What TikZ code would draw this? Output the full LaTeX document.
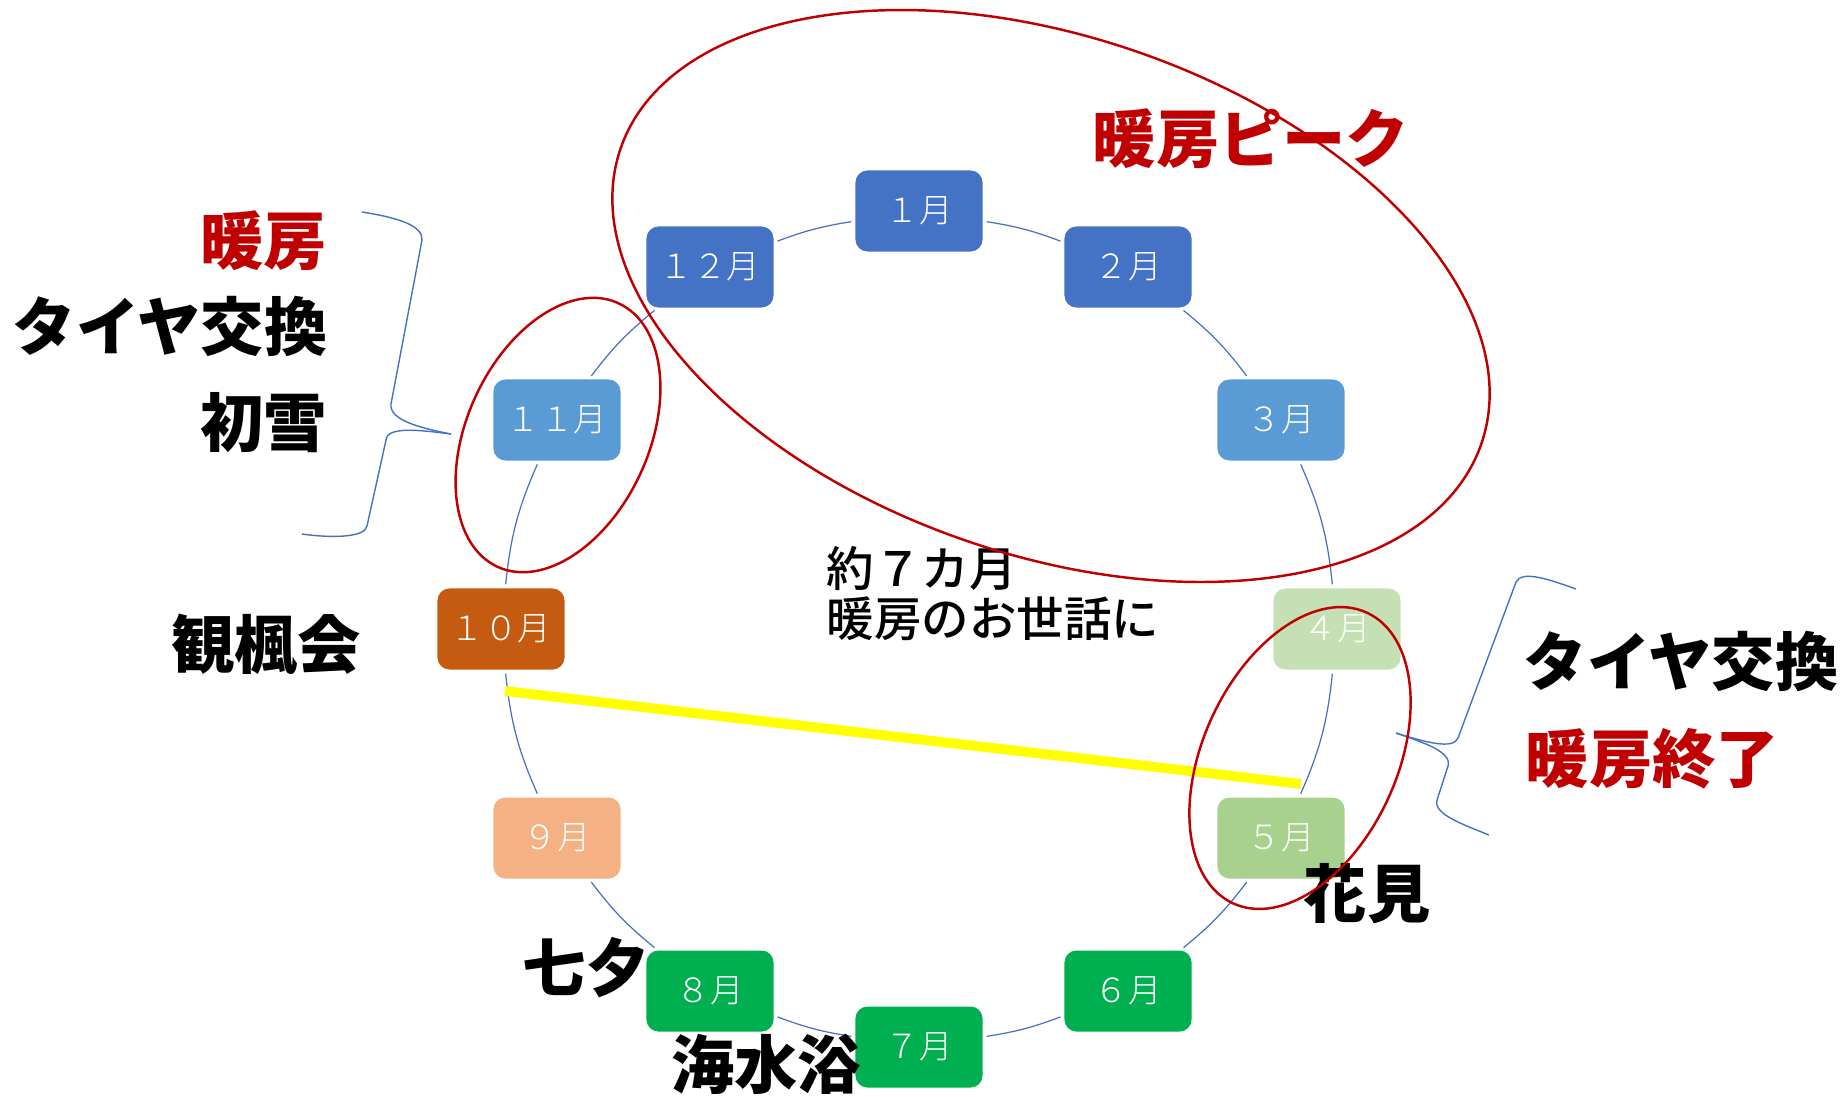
\documentclass[tikz,border=0pt]{standalone}
\usepackage{fontspec}
\setmainfont{Noto Sans CJK JP}
\newfontfamily\thinfont{Noto Sans CJK JP Light}
\newfontfamily\midfont{Noto Sans CJK JP Medium}
\definecolor{blue}{RGB}{68, 114, 196}
\definecolor{lightblue}{RGB}{91, 155, 213}
\definecolor{red}{RGB}{192, 0, 0}
\definecolor{green}{RGB}{0, 176, 80}
\definecolor{sage}{RGB}{169, 209, 142}
\definecolor{mint}{RGB}{197, 224, 180}
\definecolor{rust}{RGB}{197, 90, 17}
\definecolor{peach}{RGB}{244, 177, 131}
\definecolor{yellow}{RGB}{255, 255, 0}

\begin{document}
\begin{tikzpicture}[x=0.01cm, y=0.01cm,
  month/.style={fill=#1, rounded corners=0.12cm, minimum width=1.27cm, minimum height=0.81cm, inner sep=0pt, text=white, font=\thinfont\fontsize{9.5}{10}\selectfont},
  ring/.style={draw=blue, line width=0.35pt, shorten >=1pt, shorten <=1pt},
  redloop/.style={draw=red, line width=0.7pt},
  brace/.style={draw=blue, line width=0.4pt},
  lbl/.style={font=\bfseries\fontsize{18}{20}\selectfont, inner sep=0pt}]
\useasboundingbox (0,0) rectangle (1843,-1096);

% Months round the ring, clockwise from the top
\node[month=blue] (jan) at (919,-211) {１月};
\node[month=blue] (feb) at (1128,-267) {２月};
\node[month=lightblue] (mar) at (1281,-420) {３月};
\node[month=mint] (apr) at (1337,-629) {４月};
\node[month=sage] (may) at (1281,-838) {５月};
\node[month=green] (jun) at (1128,-991) {６月};
\node[month=green] (jul) at (919,-1047) {７月};
\node[month=green] (aug) at (710,-991) {８月};
\node[month=peach] (sep) at (557,-838) {９月};
\node[month=rust] (oct) at (501,-629) {１０月};
\node[month=lightblue] (nov) at (557,-420) {１１月};
\node[month=blue] (dec) at (710,-267) {１２月};

% Arcs between the months
\draw[ring] (jan) to[bend left=6] (feb);
\draw[ring] (feb) to[bend left=7] (mar);
\draw[ring] (mar) to[bend left=9] (apr);
\draw[ring] (apr) to[bend left=9] (may);
\draw[ring] (may) to[bend left=7] (jun);
\draw[ring] (jun) to[bend left=6] (jul);
\draw[ring] (jul) to[bend left=6] (aug);
\draw[ring] (aug) to[bend left=7] (sep);
\draw[ring] (sep) to[bend left=9] (oct);
\draw[ring] (oct) to[bend left=9] (nov);
\draw[ring] (nov) to[bend left=7] (dec);
\draw[ring] (dec) to[bend left=6] (jan);

% Yellow bar from October to May
\coordinate (ystart) at (505,-691);
\coordinate (yend) at (1301,-784);
\draw[line width=2.8pt, yellow] (ystart) -- (yend);

% Text in the middle
\node[align=left, anchor=north west, inner sep=0pt, font=\midfont\fontsize{13.5}{14}\selectfont] (span) at (826,-546) {約７カ月\\暖房のお世話に};

% Events round the ring
\node[lbl, text=red] (peak) at (1251,-139) {暖房ピーク};
\node[lbl, text=red, anchor=east] (heatL) at (328,-241) {暖房};
\node[lbl, anchor=east] (tireL) at (328,-326) {タイヤ交換};
\node[lbl, anchor=east] (snow) at (328,-423) {初雪};
\node[lbl] (kanpu) at (266,-645) {観楓会};
\node[lbl] (tanabata) at (586,-968) {七夕};
\node[lbl] (kaisui) at (766,-1064) {海水浴};
\node[lbl] (hanami) at (1367,-894) {花見};
\node[lbl, anchor=west] (tireR) at (1523,-661) {タイヤ交換};
\node[lbl, text=red, anchor=west] (heatEnd) at (1525,-759) {暖房終了};

% Braces
\draw[brace] (362,-212) .. controls (400,-218) and (423,-226) .. (422,-240) -- (391,-404) .. controls (389,-420) and (420,-428) .. (451,-434);
\draw[brace] (451,-434) .. controls (420,-430) and (387,-426) .. (386,-440) -- (367,-526) .. controls (365,-538) and (330,-538) .. (302,-534);
\draw[brace] (1576,-589) .. controls (1548,-579) and (1522,-570) .. (1516,-582) -- (1458,-738) .. controls (1453,-750) and (1425,-742) .. (1396,-733);
\draw[brace] (1396,-733) .. controls (1425,-743) and (1452,-752) .. (1448,-766) -- (1437,-800) .. controls (1433,-814) and (1462,-824) .. (1489,-835);

% Red loops
\draw[redloop, rotate around={-18.9:(1051,-296)}] (1051,-296) ellipse [x radius=455, y radius=259];
\draw[redloop, rotate around={65.4:(558,-435)}] (558,-435) ellipse [x radius=145, y radius=91];
\draw[redloop, rotate around={65.3:(1300,-758)}] (1300,-758) ellipse [x radius=160, y radius=97];
\end{tikzpicture}
\end{document}
